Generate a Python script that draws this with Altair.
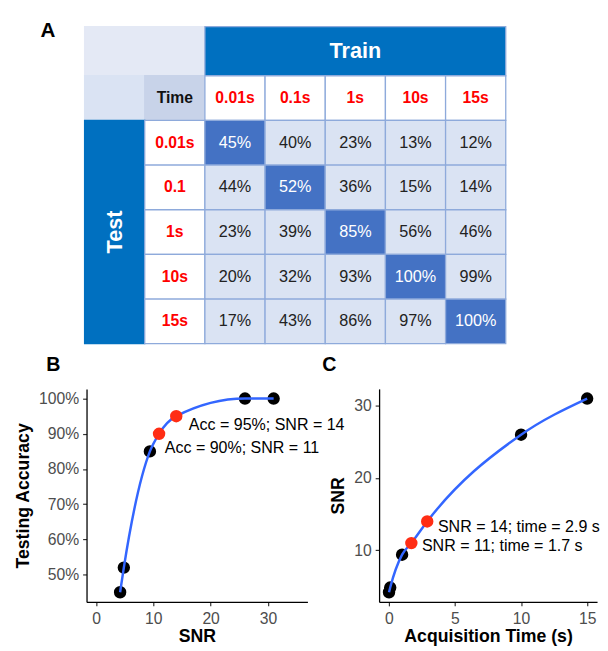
import altair as alt
import pandas as pd

# ---------------- data ----------------
train_times = ["0.01s", "0.1s", "1s", "10s", "15s"]
test_times = ["0.01s", "0.1", "1s", "10s", "15s"]
accuracy = [
    [45, 40, 23, 13, 12],
    [44, 52, 36, 15, 14],
    [23, 39, 85, 56, 46],
    [20, 32, 93, 100, 99],
    [17, 43, 86, 97, 100],
]

snr_black = [4.2, 4.85, 9.4, 26, 31]
acc_black = [45, 52, 85, 100, 100]
time_black = [0.01, 0.1, 1, 10, 15]
snr_red = [11, 14]
acc_red = [90, 95]
time_red = [1.7, 2.9]

b_labels = ["Acc = 90%; SNR = 11", "Acc = 95%; SNR = 14"]
b_label_x = [12.0, 16.2]
b_label_y = [85.8, 92.5]
c_labels = ["SNR = 11; time = 1.7 s", "SNR = 14; time = 2.9 s"]
c_label_x = [2.5, 3.71]
c_label_y = [10.6, 13.25]

FONT = "Liberation Sans"
BLUE_HDR = "#0070c0"
DIAG = "#4472c4"
LIGHT = "#dae3f3"
BORDER = "#8eaadb"

# ---------------- table (A) ----------------
HEAD = 1.1  # first row is a bit taller


def r_top(r):
    return 0 if r == 0 else HEAD + r - 1


def r_bot(r):
    return HEAD if r == 0 else HEAD + r


cells = []


def add(c0, c1, r0, r1, fill, stroke):
    cells.append(dict(x=c0, x2=c1, y=r_top(r0), y2=r_bot(r1), fill=fill, stroke=stroke))


add(0, 2, 0, 0, "#e4e9f5", "#e4e9f5")
add(2, 7, 0, 0, BLUE_HDR, BORDER)
add(0, 1, 1, 1, "#dae3f3", "#dae3f3")
add(1, 2, 1, 1, "#c8d3e9", "#c8d3e9")
for j in range(5):
    add(2 + j, 3 + j, 1, 1, "white", BORDER)
add(0, 1, 2, 6, BLUE_HDR, BLUE_HDR)
for i in range(5):
    add(1, 2, 2 + i, 2 + i, "white", BORDER)
    for j in range(5):
        add(2 + j, 3 + j, 2 + i, 2 + i, DIAG if i == j else LIGHT, BORDER)
cells_df = pd.DataFrame(cells)

vals = []
for i in range(5):
    for j in range(5):
        vals.append(dict(xc=2.5 + j, yc=(r_top(2 + i) + r_bot(2 + i)) / 2,
                         t=f"{accuracy[i][j]}%",
                         col="white" if i == j else "#222222"))
vals_df = pd.DataFrame(vals)

hdr = []
for j, t in enumerate(train_times):
    hdr.append(dict(xc=2.5 + j, yc=(r_top(1) + r_bot(1)) / 2, t=t))
for i, t in enumerate(test_times):
    hdr.append(dict(xc=1.5, yc=(r_top(2 + i) + r_bot(2 + i)) / 2, t=t))
hdr_df = pd.DataFrame(hdr)

xs = alt.Scale(domain=[0, 7], range=[-2, 427], nice=False, zero=False)
ys = alt.Scale(domain=[0, HEAD + 6], range=[0, 323], nice=False, zero=False)

rects = alt.Chart(cells_df).mark_rect(strokeWidth=1.3).encode(
    x=alt.X("x:Q", scale=xs, axis=None),
    x2="x2:Q",
    y=alt.Y("y:Q", scale=ys, axis=None),
    y2="y2:Q",
    fill=alt.Fill("fill:N", scale=None),
    stroke=alt.Stroke("stroke:N", scale=None),
)

val_text = alt.Chart(vals_df).mark_text(font=FONT, fontSize=16.5).encode(
    x=alt.X("xc:Q", scale=xs, axis=None),
    y=alt.Y("yc:Q", scale=ys, axis=None),
    text="t:N",
    color=alt.Color("col:N", scale=None),
)

hdr_text = alt.Chart(hdr_df).mark_text(font=FONT, fontSize=16, fontWeight="bold", color="#ff0000").encode(
    x=alt.X("xc:Q", scale=xs, axis=None),
    y=alt.Y("yc:Q", scale=ys, axis=None),
    text="t:N",
)

misc_df = pd.DataFrame([
    dict(xc=1.5, yc=(r_top(1) + r_bot(1)) / 2, t="Time"),
])
time_text = alt.Chart(misc_df).mark_text(font=FONT, fontSize=16, fontWeight="bold", color="#111111").encode(
    x=alt.X("xc:Q", scale=xs, axis=None),
    y=alt.Y("yc:Q", scale=ys, axis=None),
    text="t:N",
)

train_df = pd.DataFrame([dict(xc=4.5, yc=HEAD / 2, t="Train")])
train_text = alt.Chart(train_df).mark_text(font=FONT, fontSize=22, fontWeight="bold", color="white").encode(
    x=alt.X("xc:Q", scale=xs, axis=None),
    y=alt.Y("yc:Q", scale=ys, axis=None),
    text="t:N",
)

test_df = pd.DataFrame([dict(xc=0.5, yc=(r_top(2) + r_bot(6)) / 2, t="Test")])
test_text = alt.Chart(test_df).mark_text(font=FONT, fontSize=22, fontWeight="bold", color="white", angle=270).encode(
    x=alt.X("xc:Q", scale=xs, axis=None),
    y=alt.Y("yc:Q", scale=ys, axis=None),
    text="t:N",
)

one = pd.DataFrame({"t": ["A"]})
anchor = alt.Chart(one).mark_rect(opacity=0).encode(
    x=alt.value(-80), x2=alt.value(-79), y=alt.value(-13), y2=alt.value(-12)
)
label_a = alt.Chart(one).mark_text(font=FONT, fontSize=21, fontWeight="bold", align="left",
                                   baseline="alphabetic", color="black").encode(
    text="t:N", x=alt.value(-47), y=alt.value(11)
)

table = alt.layer(rects, val_text, hdr_text, time_text, train_text, test_text, anchor, label_a).properties(
    width=427, height=323
)

# ---------------- panel B ----------------
b_black = pd.DataFrame({"snr": snr_black, "acc": acc_black})
b_red = pd.DataFrame({"snr": snr_red, "acc": acc_red})
b_line = pd.concat([b_black, b_red]).sort_values("snr")
b_ann = pd.DataFrame({"x": b_label_x, "y": b_label_y, "t": b_labels})

xb = alt.Scale(domain=[-1.66, 36.9], nice=False, zero=False)
yb = alt.Scale(domain=[42.25, 102.75], nice=False, zero=False)
bx = alt.X("snr:Q", scale=xb, axis=alt.Axis(values=[0, 10, 20, 30], title="SNR"))
by = alt.Y("acc:Q", scale=yb, axis=alt.Axis(values=[50, 60, 70, 80, 90, 100],
                                            labelExpr="datum.value + '%'",
                                            title="Testing Accuracy"))

b_pts = alt.Chart(b_black).mark_circle(size=160, color="black", opacity=1).encode(x=bx, y=by)
b_ln = alt.Chart(b_line).mark_line(color="#3366ff", strokeWidth=2.5, interpolate="monotone").encode(x=bx, y=by)
b_rd = alt.Chart(b_red).mark_circle(size=160, color="#ff2d14", opacity=1).encode(x=bx, y=by)
b_tx = alt.Chart(b_ann).mark_text(font=FONT, fontSize=16.3, align="left", baseline="middle", color="black").encode(
    x=alt.X("x:Q", scale=xb), y=alt.Y("y:Q", scale=yb), text="t:N"
)
label_b = alt.Chart(pd.DataFrame({"t": ["B"]})).mark_text(
    font=FONT, fontSize=20, fontWeight="bold", align="left", baseline="alphabetic", color="black"
).encode(text="t:N", x=alt.value(-41), y=alt.value(-18))

panel_b = alt.layer(b_pts, b_ln, b_rd, b_tx, label_b).properties(width=225, height=217)

# ---------------- panel C ----------------
c_black = pd.DataFrame({"time": time_black, "snr": snr_black})
c_red = pd.DataFrame({"time": time_red, "snr": snr_red})
c_line = pd.concat([c_black, c_red]).sort_values("time")
c_ann = pd.DataFrame({"x": c_label_x, "y": c_label_y, "t": c_labels})

xc = alt.Scale(domain=[-0.74, 15.75], nice=False, zero=False)
yc = alt.Scale(domain=[2.86, 32.34], nice=False, zero=False)
cx = alt.X("time:Q", scale=xc, axis=alt.Axis(values=[0, 5, 10, 15], title="Acquisition Time (s)"))
cy = alt.Y("snr:Q", scale=yc, axis=alt.Axis(values=[10, 20, 30], title="SNR"))

c_pts = alt.Chart(c_black).mark_circle(size=160, color="black", opacity=1).encode(x=cx, y=cy)
c_ln = alt.Chart(c_line).mark_line(color="#3366ff", strokeWidth=2.5, interpolate="monotone").encode(x=cx, y=cy)
c_rd = alt.Chart(c_red).mark_circle(size=160, color="#ff2d14", opacity=1).encode(x=cx, y=cy)
c_tx = alt.Chart(c_ann).mark_text(font=FONT, fontSize=16.3, align="left", baseline="middle", color="black").encode(
    x=alt.X("x:Q", scale=xc), y=alt.Y("y:Q", scale=yc), text="t:N"
)
label_c = alt.Chart(pd.DataFrame({"t": ["C"]})).mark_text(
    font=FONT, fontSize=20, fontWeight="bold", align="left", baseline="alphabetic", color="black"
).encode(text="t:N", x=alt.value(-58), y=alt.value(-18))

panel_c = alt.layer(c_pts, c_ln, c_rd, c_tx, label_c).properties(width=222, height=217)

# ---------------- layout ----------------
bottom = alt.hconcat(panel_b, panel_c, spacing=73, bounds="flush")
chart = alt.vconcat(table, bottom, spacing=46, bounds="flush").properties(
    padding=0
).configure_view(stroke=None).configure_axis(
    grid=False,
    domainColor="black",
    domainWidth=1.3,
    tickColor="#333333",
    tickWidth=1.2,
    tickSize=4,
    labelColor="#4d4d4d",
    labelFont=FONT,
    labelFontSize=16,
    titleFont=FONT,
    titleFontSize=18,
    titleFontWeight="bold",
    titleColor="black",
).configure_axisX(labelPadding=5, titlePadding=1).configure_axisY(labelPadding=4, titlePadding=6)

chart.save("out.html", embed_options={"renderer": "svg", "actions": False})
